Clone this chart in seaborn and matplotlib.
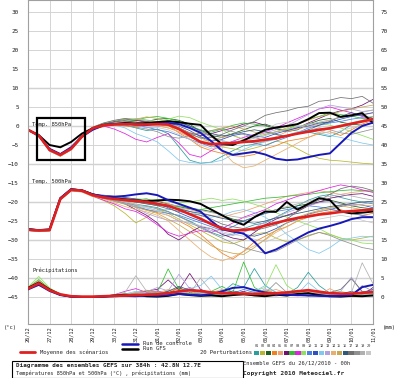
"""
GEFS ensemble diagram (384h) : 850hPa / 500hPa temperatures and precipitation.
"""
import pandas as pd
import seaborn as sns
import matplotlib.pyplot as plt
from matplotlib.patches import Rectangle
from matplotlib.lines import Line2D

# 12h steps, 0 .. 384h, expressed in days
days = [h / 24 for h in range(0, 385, 12)]
date_labels = ["26/12", "27/12", "28/12", "29/12", "30/12", "31/12", "01/01",
               "02/01", "03/01", "04/01", "05/01", "06/01", "07/01", "08/01",
               "09/01", "10/01", "11/01"]
member_names = ["%02d" % i for i in range(1, 21)]
pert_colors = ["#2a9d9d", "#b8b830", "#1f5f1f", "#f08020", "#f0a070",
               "#701070", "#30c030", "#e020e0", "#90e060", "#4a80e0",
               "#3050c0", "#80c8f0", "#b0a0e0", "#e8b070", "#c8a850",
               "#305878", "#707070", "#909090", "#b0b0b0", "#c8c8c8"]

# ---- temperature 850 hPa (deg C)
t850_mean = [-1.0, -2.5, -6.3, -7.6, -6.0, -2.8, -0.6, 0.2, 0.4, 0.5, 0.4,
             0.4, 0.5, 0.4, -0.8, -2.5, -4.2, -4.8, -4.6, -4.5, -4.2, -4.0,
             -3.6, -3.2, -2.6, -2.0, -1.5, -1.0, -0.6, 0.0, 0.6, 1.2, 1.8]
t850_ctrl = [-1.0, -2.6, -6.0, -7.4, -5.6, -2.8, -1.0, 0.2, 0.5, 0.6, 0.4,
             0.3, 0.6, 0.8, 0.5, -0.5, -1.8, -4.0, -6.5, -7.6, -7.2, -6.8,
             -7.5, -8.6, -9.0, -8.8, -8.2, -7.6, -7.2, -4.5, -1.8, 0.0, 0.9]
t850_gfs = [-1.0, -2.4, -5.0, -5.6, -4.2, -2.0, -0.6, 0.3, 0.5, 0.8, 0.6,
            0.8, 1.0, 1.2, 1.0, 0.6, 0.3, -2.5, -4.8, -5.0, -3.8, -2.4,
            -1.0, -0.4, 0.0, 0.5, 1.8, 3.4, 3.5, 2.4, 2.8, 3.4, 0.8]
t850_members = [
    [-1.0, -2.6, -6.4, -7.8, -6.2, -3.0, -0.8, 0.0, 0.6, 0.2, -0.5, -1.2, -0.8, -2.0, -5.5, -9.0, -9.8, -9.5, -8.0, -6.5, -5.2, -4.8, -4.0, -3.2, -2.5, -2.0, -1.6, -2.2, -2.8, -1.5, 0.4, 1.2, 2.0],
    [-1.0, -2.4, -6.2, -7.5, -5.8, -2.6, -0.4, 0.5, 1.0, 1.5, 0.8, 0.2, 0.5, 0.0, -1.0, -2.2, -3.0, -4.5, -5.5, -6.0, -6.5, -5.8, -5.0, -4.0, -4.5, -6.0, -7.5, -8.5, -9.0, -9.2, -9.5, -9.8, -10.0],
    [-1.0, -2.5, -6.5, -7.7, -6.0, -2.7, -0.5, 0.3, 0.8, 1.2, 1.5, 1.2, 1.8, 2.0, 1.5, 0.5, -1.5, -2.5, -3.0, -2.0, -1.0, 0.0, 0.5, -0.5, -1.5, -1.0, 0.5, 1.5, 2.0, 1.0, 0.5, 0.2, 0.8],
    [-1.0, -2.7, -6.6, -8.0, -6.3, -3.1, -0.9, -0.2, 0.3, 0.0, -0.2, 0.3, 0.8, 0.2, -1.8, -3.5, -5.5, -6.5, -7.2, -7.8, -8.0, -7.5, -6.0, -5.2, -4.0, -3.5, -3.0, -2.0, -1.5, -2.5, -1.0, 0.5, 1.5],
    [-1.0, -2.5, -6.3, -7.6, -6.0, -2.8, -0.7, 0.2, 0.5, 0.8, 1.0, 0.5, 0.0, -0.5, -1.5, -3.0, -4.0, -3.8, -3.0, -2.5, -3.5, -4.5, -4.0, -2.8, -1.5, -0.8, -0.2, 0.5, 1.5, 2.5, 3.0, 2.8, 3.5],
    [-1.0, -2.3, -6.0, -7.3, -5.7, -2.6, -0.4, 0.6, 1.2, 1.8, 1.5, 1.0, 0.8, 0.3, -0.5, -1.8, -2.5, -2.0, -1.2, -0.5, 0.5, 1.0, 0.2, -0.8, -1.2, -0.5, 0.8, 2.0, 3.2, 4.0, 4.5, 5.5, 7.0],
    [-1.0, -2.6, -6.4, -7.7, -6.1, -2.9, -0.7, 0.1, 0.6, 1.0, 1.6, 2.2, 2.5, 2.0, 1.2, 0.0, -1.0, -1.6, -0.8, 0.2, 0.8, 0.5, 0.0, -0.8, -1.0, 0.5, 1.8, 2.5, 3.5, 3.0, 2.6, 2.0, 2.5],
    [-1.0, -2.5, -6.2, -7.5, -5.9, -2.7, -0.6, 0.0, -0.8, -2.0, -3.5, -4.2, -3.0, -2.0, -4.5, -7.5, -8.2, -6.5, -5.0, -4.0, -3.0, -2.2, -1.5, -0.5, 0.8, 2.0, 3.2, 4.5, 5.0, 4.2, 3.5, 2.5, 2.0],
    [-1.0, -2.4, -6.1, -7.4, -5.8, -2.5, -0.3, 0.7, 1.4, 1.8, 2.0, 1.6, 1.2, 1.8, 2.6, 2.2, 1.0, 0.0, -1.0, -2.5, -3.5, -3.0, -2.2, -1.5, -0.8, -0.2, 0.5, 0.8, 0.2, -0.5, -1.5, -2.5, -3.5],
    [-1.0, -2.6, -6.5, -7.9, -6.2, -3.0, -0.8, 0.0, 0.4, 0.6, 0.2, -0.3, -1.0, -1.5, -2.5, -3.5, -4.5, -5.5, -5.0, -4.2, -3.8, -4.5, -5.2, -4.0, -3.0, -1.8, -0.5, 0.2, 0.8, 1.2, 1.8, 2.2, 1.6],
    [-1.0, -2.5, -6.4, -7.7, -6.0, -2.8, -0.6, 0.3, 0.7, 1.0, 0.6, 0.8, 1.2, 0.8, 0.0, -1.2, -2.8, -4.0, -3.5, -2.5, -2.0, -2.6, -3.0, -2.0, -1.2, -0.4, 0.0, 0.8, 1.0, 1.8, 2.5, 3.0, 3.5],
    [-1.0, -2.7, -6.5, -7.8, -6.1, -2.9, -0.7, 0.2, 0.3, -0.5, -2.0, -3.0, -4.2, -6.5, -9.0, -9.6, -9.8, -9.6, -9.0, -7.5, -6.2, -5.0, -4.2, -3.5, -2.5, -1.5, -1.0, -1.8, -2.5, -3.0, -3.8, -4.5, -5.0],
    [-1.0, -2.4, -6.2, -7.6, -6.0, -2.6, -0.5, 0.4, 1.0, 0.8, 0.2, -0.5, -0.2, 0.5, 0.8, 0.0, -1.5, -3.0, -4.0, -4.5, -3.8, -2.8, -1.8, -1.0, 0.0, 1.5, 3.0, 4.5, 5.5, 5.0, 4.5, 3.8, 4.2],
    [-1.0, -2.6, -6.4, -7.9, -6.3, -3.1, -0.9, 0.0, 0.5, 1.0, 1.2, 0.6, 0.2, -0.5, -1.5, -2.8, -4.0, -5.2, -6.5, -9.5, -11.0, -10.5, -9.0, -7.5, -6.0, -4.5, -3.0, -1.8, -0.5, 0.2, 0.8, 1.5, 2.5],
    [-1.0, -2.5, -6.3, -7.7, -6.0, -2.8, -0.6, 0.3, 0.9, 1.4, 1.8, 2.4, 2.0, 1.0, -0.5, -1.8, -2.0, -1.2, -0.5, 0.0, -0.8, -1.6, -2.2, -1.5, -0.5, 0.5, 1.5, 2.5, 3.0, 3.8, 4.5, 5.0, 5.5],
    [-1.0, -2.5, -6.3, -7.6, -5.9, -2.7, -0.5, 0.5, 1.0, 1.4, 1.0, 0.5, 0.8, 1.5, 1.0, 0.0, -1.2, -2.0, -2.6, -2.2, -1.5, -1.0, -1.5, -2.2, -2.8, -2.0, -1.0, 0.2, 1.2, 2.5, 3.5, 2.8, 2.0],
    [-1.0, -2.4, -6.1, -7.4, -5.7, -2.5, -0.3, 0.8, 1.5, 2.0, 1.6, 1.2, 0.8, 0.2, -0.8, -2.0, -3.2, -3.0, -2.2, -1.0, 0.0, 1.2, 2.8, 3.5, 4.0, 4.8, 5.2, 6.5, 6.8, 7.5, 7.2, 7.8, 6.0],
    [-1.0, -2.6, -6.4, -7.8, -6.1, -2.9, -0.7, 0.1, 0.4, 0.2, -0.3, -0.8, -1.5, -2.8, -3.2, -2.5, -1.8, -1.2, -0.8, -1.5, -2.2, -3.0, -3.8, -3.5, -2.5, -1.8, -1.2, -0.5, -1.0, -1.8, -2.2, -1.5, -0.8],
    [-1.0, -2.5, -6.2, -7.6, -6.0, -2.7, -0.5, 0.4, 0.8, 1.3, 1.8, 1.5, 1.0, 0.5, 0.0, -0.6, -1.5, -2.8, -3.8, -4.5, -4.0, -3.2, -2.5, -1.6, -1.0, -0.2, 0.4, 1.0, 1.6, 2.2, 2.8, 3.6, 4.2],
    [-1.0, -2.6, -6.3, -7.7, -6.1, -2.8, -0.6, 0.2, 0.6, 0.9, 0.4, 0.0, -0.4, -1.0, -2.2, -3.5, -5.0, -6.0, -5.5, -4.5, -3.5, -2.5, -1.0, 0.5, 1.0, 0.2, -0.5, -1.2, -2.0, -1.2, -0.5, 0.2, 0.8],
]

# ---- temperature 500 hPa (deg C)
t500_mean = [-27.3, -27.5, -27.4, -19.2, -16.8, -17.0, -18.2, -18.8, -19.2,
             -19.5, -19.7, -20.0, -20.5, -21.0, -22.0, -23.2, -24.4, -25.8,
             -27.0, -27.5, -27.4, -27.0, -26.2, -25.5, -24.8, -24.2, -23.8,
             -23.3, -23.0, -22.6, -22.4, -22.2, -22.0]
t500_ctrl = [-27.2, -27.4, -27.3, -19.0, -16.6, -17.0, -18.0, -18.5, -18.6,
             -18.4, -18.0, -17.7, -18.2, -19.5, -20.5, -21.5, -22.5, -25.0,
             -27.2, -27.8, -28.3, -30.5, -33.5, -32.5, -31.0, -29.5, -28.0,
             -27.0, -26.3, -25.5, -24.5, -24.0, -24.0]
t500_gfs = [-27.2, -27.4, -27.2, -19.0, -16.7, -16.9, -18.0, -18.6, -19.0,
            -19.3, -19.6, -19.8, -19.6, -19.4, -19.5, -19.8, -20.5, -22.0,
            -23.5, -25.0, -26.0, -24.0, -22.5, -22.6, -20.0, -22.0, -20.5,
            -19.0, -19.5, -22.5, -23.0, -22.8, -22.5]
t500_members = [
    [-27.0, -27.3, -27.2, -19.0, -16.6, -17.2, -18.3, -19.0, -19.5, -20.0, -20.6, -21.0, -21.5, -22.5, -23.8, -25.0, -26.5, -28.0, -29.0, -28.5, -27.0, -26.0, -25.5, -24.0, -22.5, -21.0, -19.5, -18.5, -18.0, -18.8, -19.5, -20.0, -20.5],
    [-27.5, -27.8, -27.6, -19.5, -17.0, -17.3, -18.5, -19.6, -21.0, -23.0, -25.5, -24.0, -22.0, -23.0, -24.5, -26.0, -27.5, -29.0, -30.5, -31.0, -30.0, -28.5, -28.0, -29.5, -30.5, -30.0, -29.0, -28.0, -28.5, -29.5, -30.0, -29.5, -29.0],
    [-27.2, -27.6, -27.5, -19.3, -16.9, -17.0, -18.0, -18.4, -18.8, -19.0, -19.4, -19.2, -19.8, -20.5, -21.2, -21.8, -22.0, -22.5, -23.5, -24.5, -25.0, -24.0, -23.0, -22.0, -21.5, -21.0, -20.5, -20.0, -19.5, -20.2, -21.0, -21.5, -21.8],
    [-27.4, -27.7, -27.3, -19.1, -16.5, -16.8, -17.8, -18.8, -19.6, -20.0, -21.0, -22.0, -22.8, -23.5, -25.0, -26.5, -28.5, -31.0, -33.5, -35.0, -33.0, -30.5, -29.0, -27.5, -26.5, -25.0, -24.0, -23.0, -22.5, -22.0, -23.0, -23.5, -23.0],
    [-27.3, -27.5, -27.4, -19.4, -17.1, -17.4, -18.6, -19.0, -19.2, -19.8, -20.2, -20.0, -19.6, -20.4, -21.5, -22.0, -22.8, -23.5, -24.0, -23.2, -22.5, -21.5, -20.5, -19.5, -18.5, -18.0, -17.5, -17.0, -17.5, -18.0, -17.5, -17.2, -17.0],
    [-27.0, -27.4, -27.2, -18.9, -16.7, -17.1, -18.0, -18.6, -19.4, -20.5, -22.0, -23.5, -25.5, -28.5, -30.0, -28.0, -26.5, -27.0, -28.5, -29.5, -30.0, -28.0, -26.0, -24.5, -23.5, -22.5, -21.0, -20.0, -19.0, -18.5, -18.0, -17.8, -18.5],
    [-27.4, -27.6, -27.5, -19.2, -16.8, -17.0, -18.2, -18.8, -19.2, -19.6, -19.9, -20.2, -20.6, -20.9, -21.2, -21.6, -22.0, -21.5, -21.0, -20.5, -20.0, -19.5, -19.0, -18.8, -18.5, -18.2, -18.0, -17.6, -17.3, -17.0, -16.8, -17.0, -17.2],
    [-27.2, -27.5, -27.3, -19.2, -16.8, -17.1, -18.4, -19.5, -20.5, -21.8, -22.5, -24.0, -26.0, -28.0, -29.0, -28.2, -27.5, -28.0, -27.0, -25.5, -24.0, -23.0, -22.0, -20.5, -19.5, -18.5, -17.8, -17.0, -16.2, -15.5, -16.0, -16.8, -17.5],
    [-27.3, -27.6, -27.4, -19.2, -16.6, -16.9, -17.9, -18.5, -18.8, -19.2, -19.0, -19.5, -19.3, -19.8, -20.2, -20.0, -19.5, -19.0, -19.6, -19.2, -19.8, -20.6, -21.5, -22.8, -24.0, -25.0, -26.0, -27.0, -28.5, -29.5, -30.0, -30.8, -31.0],
    [-27.5, -27.8, -27.6, -19.5, -17.0, -17.3, -18.3, -19.0, -19.8, -20.5, -21.3, -22.0, -22.5, -23.0, -23.5, -24.5, -25.5, -26.5, -27.5, -26.5, -25.0, -24.0, -23.0, -22.5, -22.0, -21.5, -21.0, -21.3, -21.8, -22.5, -23.0, -23.5, -24.0],
    [-27.2, -27.4, -27.3, -19.2, -16.8, -17.0, -18.0, -18.2, -18.5, -18.8, -19.2, -19.8, -20.3, -21.5, -22.8, -24.0, -25.0, -25.8, -26.5, -27.5, -28.5, -29.0, -28.2, -27.0, -25.5, -24.5, -23.2, -22.5, -22.0, -21.2, -20.5, -20.8, -21.5],
    [-27.3, -27.6, -27.5, -19.3, -16.9, -17.1, -18.1, -18.8, -19.6, -20.4, -21.0, -21.6, -22.2, -22.0, -21.5, -22.5, -23.5, -24.0, -23.5, -22.5, -22.0, -22.8, -24.0, -26.0, -28.5, -30.5, -32.5, -33.5, -32.0, -30.0, -29.5, -29.0, -29.2],
    [-27.1, -27.4, -27.2, -19.0, -16.6, -16.9, -17.8, -18.4, -19.0, -20.0, -21.5, -23.0, -24.0, -24.8, -25.0, -25.6, -26.5, -27.5, -28.2, -28.8, -28.0, -26.8, -25.2, -24.0, -22.8, -21.8, -21.0, -20.2, -19.8, -20.5, -21.0, -20.6, -20.0],
    [-27.5, -27.7, -27.6, -19.4, -17.1, -17.3, -18.4, -19.2, -20.2, -21.2, -22.0, -22.6, -23.5, -25.0, -27.5, -30.0, -32.5, -34.5, -35.5, -34.5, -33.0, -31.5, -30.0, -28.0, -26.5, -25.0, -23.5, -22.5, -21.8, -21.0, -20.5, -20.8, -21.0],
    [-27.4, -27.6, -27.5, -19.3, -16.9, -17.2, -18.2, -19.0, -19.8, -20.6, -21.4, -22.2, -23.0, -24.5, -26.0, -27.8, -29.5, -31.5, -32.8, -33.5, -33.8, -32.0, -29.8, -27.5, -25.5, -24.0, -23.0, -22.2, -21.5, -21.0, -21.5, -22.0, -22.4],
    [-27.2, -27.5, -27.4, -19.1, -16.7, -17.0, -18.0, -18.6, -19.1, -19.6, -20.0, -20.5, -20.9, -21.2, -21.8, -22.5, -23.0, -23.6, -24.3, -24.8, -25.2, -25.6, -25.0, -24.2, -23.6, -23.0, -22.4, -21.8, -21.2, -20.8, -20.4, -20.0, -19.8],
    [-27.3, -27.5, -27.4, -19.2, -16.8, -17.0, -18.2, -18.8, -19.2, -19.6, -20.0, -20.4, -21.0, -21.8, -22.5, -23.0, -23.5, -24.5, -25.8, -26.5, -27.0, -27.5, -26.8, -26.0, -24.5, -22.5, -20.8, -19.5, -18.0, -16.5, -15.8, -16.2, -17.0],
    [-27.4, -27.7, -27.5, -19.4, -17.0, -17.2, -18.3, -19.0, -19.5, -20.2, -20.8, -21.2, -21.8, -22.6, -23.8, -25.2, -26.8, -28.2, -29.5, -30.8, -32.0, -32.8, -33.5, -33.0, -31.5, -30.0, -28.8, -28.0, -28.8, -30.0, -31.0, -32.0, -32.5],
    [-27.2, -27.5, -27.3, -19.1, -16.7, -16.9, -17.9, -18.3, -18.7, -19.1, -19.6, -20.0, -20.4, -20.7, -21.0, -21.5, -22.2, -22.8, -23.2, -23.8, -24.2, -23.5, -22.8, -22.0, -21.2, -20.5, -19.8, -19.0, -18.5, -18.0, -18.4, -19.0, -19.5],
    [-27.3, -27.6, -27.5, -19.3, -16.9, -17.1, -18.1, -18.9, -19.4, -20.0, -20.6, -21.4, -22.4, -23.6, -24.8, -25.5, -26.2, -27.0, -27.8, -28.5, -29.0, -29.8, -30.5, -29.5, -28.0, -26.8, -25.5, -24.5, -24.0, -23.5, -24.0, -24.8, -25.5],
]

# ---- precipitation (mm, right axis)
prec_mean = [2.2, 3.6, 1.8, 0.7, 0.2, 0.1, 0.1, 0.2, 0.3, 0.4, 0.5, 0.6, 0.7,
             1.0, 1.5, 1.8, 1.6, 1.2, 1.0, 1.0, 0.9, 0.8, 0.9, 1.0, 1.2, 1.5,
             1.8, 1.4, 1.0, 0.9, 0.9, 1.1, 1.3]
prec_ctrl = [2.0, 3.2, 1.6, 0.5, 0.1, 0.0, 0.0, 0.1, 0.2, 0.3, 0.2, 0.4, 0.3,
             0.5, 0.8, 0.6, 0.4, 0.8, 1.5, 2.4, 2.6, 1.8, 1.2, 0.8, 0.6, 0.5,
             0.4, 0.3, 0.2, 0.3, 0.5, 2.6, 3.2]
prec_gfs = [2.4, 3.8, 2.0, 0.6, 0.1, 0.0, 0.0, 0.1, 0.4, 0.6, 0.5, 0.2, 0.1,
            0.3, 0.8, 0.5, 0.3, 0.4, 0.2, 0.5, 0.8, 0.4, 0.2, 0.6, 0.4, 0.8,
            1.0, 0.5, 0.2, 0.1, 0.3, 0.2, 0.4]
prec_members = [
    [2.2, 3.6, 1.8, 0.6, 0.1, 0.0, 0.0, 0.1, 0.3, 0.6, 0.4, 0.8, 1.0, 0.6, 1.2, 2.0, 1.5, 0.8, 1.2, 3.5, 2.5, 7.5, 3.0, 1.2, 0.8, 2.5, 6.5, 3.0, 1.0, 0.6, 0.8, 1.0, 0.5],
    [2.4, 4.0, 2.0, 0.7, 0.2, 0.1, 0.0, 0.2, 0.5, 1.0, 0.6, 0.3, 0.2, 0.8, 1.5, 0.6, 0.3, 0.5, 1.8, 0.8, 0.4, 0.6, 1.5, 0.7, 0.3, 0.5, 0.8, 1.2, 0.6, 0.3, 0.2, 0.4, 0.6],
    [2.1, 3.5, 1.7, 0.5, 0.1, 0.0, 0.0, 0.0, 0.2, 0.4, 1.2, 1.5, 0.8, 1.0, 2.5, 1.2, 0.6, 0.4, 0.8, 1.2, 0.6, 0.4, 0.3, 0.5, 0.8, 1.0, 0.5, 0.3, 0.6, 0.4, 0.3, 0.8, 1.0],
    [2.3, 3.8, 1.9, 0.6, 0.1, 0.0, 0.0, 0.1, 0.2, 0.2, 0.3, 0.5, 0.8, 1.6, 2.2, 1.5, 0.8, 1.0, 0.6, 0.5, 0.8, 0.5, 0.3, 0.6, 1.0, 1.8, 1.2, 0.6, 0.4, 0.3, 0.5, 0.4, 0.6],
    [2.0, 3.4, 1.6, 0.5, 0.1, 0.0, 0.0, 0.0, 0.1, 0.2, 0.4, 0.3, 0.5, 0.8, 1.0, 0.6, 0.4, 0.8, 1.5, 0.9, 0.5, 0.7, 1.2, 2.0, 1.0, 0.5, 0.3, 0.6, 2.2, 0.8, 0.4, 0.6, 0.8],
    [2.2, 3.7, 1.8, 0.6, 0.1, 0.0, 0.0, 0.1, 0.3, 0.5, 0.9, 1.6, 2.0, 4.5, 1.8, 6.2, 2.0, 1.0, 0.6, 0.8, 1.5, 0.6, 0.3, 0.4, 0.5, 0.8, 0.4, 0.3, 0.5, 0.6, 0.3, 0.5, 2.5],
    [2.5, 4.6, 2.2, 0.7, 0.2, 0.0, 0.0, 0.1, 0.4, 0.6, 0.5, 0.8, 1.2, 7.4, 2.0, 0.8, 0.5, 1.5, 2.8, 1.2, 9.2, 2.5, 1.0, 0.6, 0.8, 1.0, 0.6, 0.4, 0.3, 0.5, 0.6, 0.8, 1.0],
    [2.3, 3.9, 1.9, 0.6, 0.1, 0.0, 0.0, 0.1, 0.6, 1.5, 2.2, 1.2, 1.6, 1.0, 0.6, 1.8, 1.0, 0.5, 0.4, 0.6, 0.8, 0.4, 0.3, 0.5, 0.4, 0.3, 0.6, 0.8, 0.5, 0.3, 0.4, 0.6, 0.5],
    [2.6, 5.4, 2.4, 0.8, 0.2, 0.1, 0.0, 0.1, 0.2, 0.4, 0.6, 0.5, 0.8, 1.2, 0.8, 0.6, 0.9, 1.2, 0.8, 0.6, 1.0, 1.6, 2.5, 8.5, 3.0, 1.2, 0.8, 0.6, 1.0, 1.5, 0.8, 0.5, 0.6],
    [2.1, 3.5, 1.7, 0.5, 0.1, 0.0, 0.0, 0.0, 0.2, 0.3, 0.5, 0.8, 1.1, 0.7, 1.4, 2.5, 1.2, 0.8, 0.6, 1.0, 2.0, 1.2, 0.8, 0.5, 0.3, 0.6, 1.0, 0.6, 0.4, 0.3, 0.5, 0.4, 0.3],
    [2.2, 3.6, 1.8, 0.6, 0.1, 0.0, 0.0, 0.1, 0.3, 0.4, 0.6, 0.5, 0.9, 1.3, 0.8, 0.6, 0.4, 0.8, 1.4, 1.0, 0.6, 0.5, 0.4, 0.3, 0.5, 0.8, 0.6, 0.4, 0.3, 0.6, 0.4, 1.2, 2.0],
    [2.4, 4.2, 2.0, 0.7, 0.2, 0.0, 0.0, 0.2, 0.4, 0.8, 1.5, 1.0, 0.6, 0.9, 1.4, 2.2, 3.0, 5.5, 2.0, 0.8, 0.6, 1.5, 3.0, 1.2, 0.6, 0.8, 3.8, 1.5, 0.8, 0.5, 0.6, 0.4, 0.5],
    [2.3, 3.8, 1.9, 0.6, 0.1, 0.0, 0.0, 0.1, 0.2, 0.5, 0.8, 1.4, 2.5, 1.6, 6.0, 2.2, 1.0, 0.6, 0.8, 1.2, 0.6, 0.4, 2.2, 0.8, 0.4, 0.6, 1.5, 0.8, 0.6, 1.5, 5.2, 1.2, 0.8],
    [2.0, 3.3, 1.6, 0.5, 0.1, 0.0, 0.0, 0.0, 0.1, 0.2, 0.3, 0.6, 1.0, 2.0, 1.2, 0.7, 0.5, 1.2, 2.0, 1.0, 0.5, 0.8, 0.6, 0.4, 0.3, 0.5, 0.8, 1.2, 0.8, 0.5, 0.4, 0.3, 0.5],
    [2.4, 4.4, 2.1, 0.7, 0.2, 0.0, 0.0, 0.2, 0.5, 0.7, 0.9, 1.8, 1.2, 0.8, 1.6, 1.0, 0.6, 0.9, 1.5, 0.8, 0.6, 1.0, 1.8, 1.0, 0.6, 0.4, 0.6, 0.8, 0.5, 0.3, 0.5, 0.6, 0.4],
    [2.1, 3.6, 1.8, 0.5, 0.1, 0.0, 0.0, 0.1, 0.2, 0.3, 0.4, 0.6, 0.8, 1.5, 2.8, 1.8, 0.8, 0.6, 0.9, 1.6, 1.0, 0.6, 0.4, 0.6, 0.8, 0.5, 0.3, 0.4, 0.6, 0.8, 1.5, 0.6, 0.4],
    [2.2, 3.7, 1.9, 0.6, 0.1, 0.0, 0.0, 0.1, 0.3, 0.5, 0.6, 0.9, 0.6, 0.8, 1.2, 0.7, 0.5, 0.4, 0.6, 0.9, 0.7, 0.5, 0.8, 0.6, 0.4, 0.5, 0.8, 0.6, 1.2, 2.0, 4.8, 1.5, 1.0],
    [2.3, 3.9, 2.0, 0.6, 0.2, 0.0, 0.0, 0.1, 0.2, 0.4, 0.7, 1.0, 1.4, 0.9, 0.6, 0.8, 1.0, 1.4, 0.8, 0.5, 0.4, 0.6, 1.0, 3.8, 1.2, 0.6, 0.5, 0.8, 1.2, 0.6, 0.4, 3.0, 1.5],
    [2.4, 4.0, 2.0, 0.7, 0.2, 0.1, 0.0, 0.2, 0.6, 1.2, 5.6, 1.5, 0.8, 0.6, 1.0, 0.8, 5.0, 1.5, 0.8, 0.6, 0.5, 0.4, 0.6, 0.8, 0.5, 0.4, 0.6, 0.5, 0.8, 0.6, 1.2, 9.0, 3.5],
    [2.1, 3.5, 1.7, 0.5, 0.1, 0.0, 0.0, 0.1, 0.4, 0.8, 1.2, 0.8, 0.5, 0.6, 0.9, 1.5, 1.0, 0.6, 0.5, 0.8, 1.2, 0.6, 0.4, 0.3, 0.6, 1.0, 0.5, 0.4, 0.6, 0.8, 0.5, 0.6, 0.8],
]

sns.set_style("white")
plt.rcParams["font.family"] = ["DejaVu Sans Mono", "DejaVu Sans"]

RED = "#e02020"
BLUE = "#1818b8"
W, H = 400, 378


def px(x, y):
    """ pixel position in the 400x378 picture -> figure fraction """
    return x / W, 1 - y / H


def members_frame(rows):
    frames = []
    for name, vals in zip(member_names, rows):
        frames.append(pd.DataFrame({"day": days, "value": vals,
                                    "member": name}))
    return pd.concat(frames, ignore_index=True)


def draw_group(ax, members, mean, ctrl, gfs):
    palette = dict(zip(member_names, pert_colors))
    sns.lineplot(data=members_frame(members), x="day", y="value",
                 hue="member", palette=palette, estimator=None, lw=0.55,
                 legend=False, ax=ax)
    sns.lineplot(x=days, y=gfs, color="black", lw=1.4, ax=ax)
    sns.lineplot(x=days, y=ctrl, color=BLUE, lw=1.4, ax=ax)
    sns.lineplot(x=days, y=mean, color=RED, lw=1.9, ax=ax)


fig = plt.figure(figsize=(W / 100, H / 100), dpi=100)
ax = fig.add_axes([28 / W, 1 - 324 / H, 345 / W, 324 / H])

ax.set_xlim(0, 16)
ax.set_ylim(-198 / 3.8, 126 / 3.8)
ax.set_xticks(range(17))
ax.set_xticklabels(date_labels, rotation=90, fontsize=3.8)
ax.set_yticks(range(-45, 31, 5))
ax.tick_params(axis="x", length=0, pad=1.5, colors="#222222")
ax.tick_params(axis="y", length=0, pad=6.5, labelsize=4.3, colors="#222222")
ax.grid(True, color="#d4d4d4", lw=0.7)
for lvl in range(-40, 11, 10):
    ax.axhline(lvl, color="#a8a8a8", lw=0.9, zorder=0.5)
for sp in ax.spines.values():
    sp.set_color("#a0a0a0")
    sp.set_linewidth(0.8)

draw_group(ax, t850_members, t850_mean, t850_ctrl, t850_gfs)
draw_group(ax, t500_members, t500_mean, t500_ctrl, t500_gfs)
ax.set_xlabel("")
ax.set_ylabel("")

ax2 = ax.twinx()
ax2.set_ylim(-198 / 3.8 + 45, 126 / 3.8 + 45)
draw_group(ax2, prec_members, prec_mean, prec_ctrl, prec_gfs)
ax2.set_yticks(range(0, 76, 5))
ax2.tick_params(axis="y", length=0, pad=5.5, labelsize=4.3, colors="#222222")
ax2.set_xlabel("")
ax2.set_ylabel("")
for sp in ax2.spines.values():
    sp.set_visible(False)

# section labels inside the plot
ax.text(0.2, 0.5, "Temp. 850hPa", fontsize=4, va="center", color="#222222")
ax.text(0.2, -14.7, "Temp. 500hPa", fontsize=4, va="center", color="#222222")
ax.text(0.2, -37.9, "Précipitations", fontsize=4, va="center",
        color="#222222")

# hand drawn frame around the 850hPa minimum
ax.add_patch(Rectangle((0.42, -8.9), 2.22, 11.0, fill=False, ec="black",
                       lw=1.6, zorder=10))

fig.text(*px(4, 327), "(°c)", fontsize=4, va="center")
fig.text(*px(383, 327), "(mm)", fontsize=4, va="center")

# legend
fig.add_artist(Line2D([20 / W, 35 / W], [1 - 352 / H] * 2, color=RED, lw=2))
fig.text(*px(40, 352), "Moyenne des scénarios", fontsize=4, va="center")
fig.add_artist(Line2D([122 / W, 138 / W], [1 - 344 / H] * 2, color=BLUE,
                      lw=1.8))
fig.text(*px(143, 343.5), "Run de controle", fontsize=4, va="center")
fig.add_artist(Line2D([122 / W, 138 / W], [1 - 349 / H] * 2, color="black",
                      lw=1.8))
fig.text(*px(143, 348.5), "Run GFS", fontsize=4, va="center")
fig.text(*px(200, 352.5), "20 Perturbations", fontsize=4, va="center")
for i, (name, col) in enumerate(zip(member_names, pert_colors)):
    x0 = 254 + i * 5.9
    fig.add_artist(Rectangle(px(x0, 355), 5.2 / W, 4 / H, color=col, lw=0))
    fig.text(*px(x0 + 2.6, 346), name, fontsize=2.6, ha="center",
             va="center", color="#333333")

# title box
fig.add_artist(Rectangle(px(12, 377.5), 231 / W, 16.5 / H, fill=False,
                         ec="black", lw=0.8))
fig.text(*px(16, 366), "Diagramme des ensembles GEFS sur 384h : 42.8N 12.7E",
         fontsize=4.3, fontweight="bold", va="center")
fig.text(*px(16, 373.5),
         "Températures 850hPa et 500hPa (°C) , précipitations (mm)",
         fontsize=3.8, va="center")
fig.text(*px(243, 363), "Ensemble GEFS du 26/12/2010 - 00h", fontsize=3.9,
         va="center")
fig.text(*px(243, 373), "Copyright 2010 Meteociel.fr", fontsize=4.4,
         fontweight="bold", va="center")

fig.savefig("out.png", dpi=100)
